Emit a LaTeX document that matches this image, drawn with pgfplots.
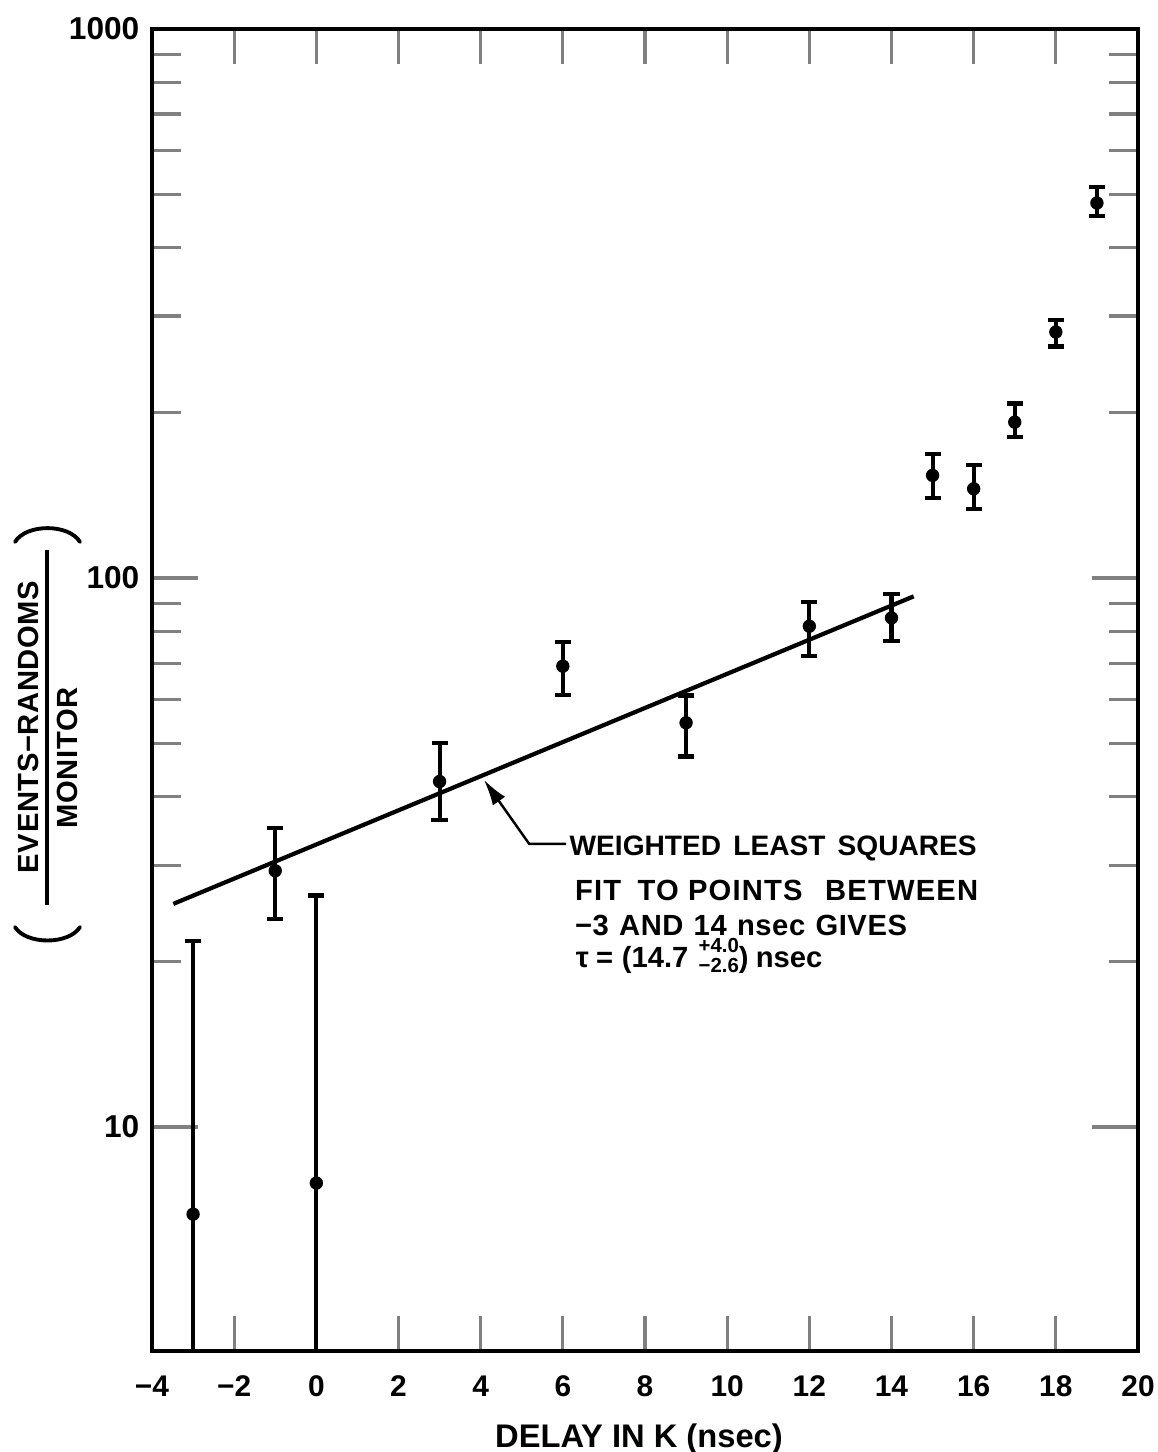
\documentclass[border=0pt]{standalone}
\usepackage{pgfplots}
\pgfplotsset{compat=1.18}
\usepackage{fontspec}
\setmainfont{Liberation Sans}
\usetikzlibrary{arrows.meta}
\begin{document}
\begin{tikzpicture}
\useasboundingbox (-15.2mm,-10.1mm) rectangle (100.5mm,135.1mm);
\begin{axis}[
  at={(0,0)}, anchor=south west,
  scale only axis, width=98.6mm, height=132.2mm,
  xmin=-4, xmax=20, ymode=log, ymin=3.91, ymax=1000,
  axis line style={line width=1.1pt},
  xtick={-4,-2,...,20},
  xticklabels={−4,−2,0,2,4,6,8,10,12,14,16,18,20},
  ytick={10,100,1000}, yticklabels={10,100,1000},
  minor ytick={20,30,40,50,60,70,80,90,200,300,400,500,600,700,800,900},
  tick align=inside,
  xtick pos=both, ytick pos=both,
  xtick style={line width=0.9pt, /pgfplots/major tick length=3.5mm},
  ytick style={line width=0.9pt, /pgfplots/major tick length=4.6mm},
  minor tick length=2.9mm,
  xticklabel style={font=\bfseries\fontsize{8.5}{10}\selectfont, inner sep=0pt, anchor=north, yshift=-2.4mm},
  yticklabel style={font=\bfseries\fontsize{9}{10}\selectfont, inner sep=0pt, anchor=east, xshift=-1.2mm},
  clip=true,
]
\addplot[black, no marks, line width=1.2pt] coordinates {(-3.48,25.5) (14.54,92.6)};
\addplot[black, only marks, mark=*, mark size=1.7pt,
  error bars/.cd, y dir=both, y explicit,
  error bar style={line width=1.15pt},
  error mark options={rotate=90, mark size=2.3pt, line width=1.2pt}]
coordinates {
(-3,6.94) += (0,14.86) -= (0,5.94)
(-1,29.3) += (0,5.7) -= (0,5.4)
(0,7.91) += (0,18.49) -= (0,6.91)
(3,42.6) += (0,7.5) -= (0,6.3)
(6,69.1) += (0,7.3) -= (0,7.8)
(9,54.5) += (0,6.6) -= (0,7.2)
(12,81.7) += (0,8.7) -= (0,9.7)
(14,84.6) += (0,9.0) -= (0,7.9)
(15,153.8) += (0,14.6) -= (0,13.9)
(16,145.4) += (0,15.5) -= (0,11.7)
(17,192.3) += (0,15.7) -= (0,11.9)
(18,280.6) += (0,14.4) -= (0,16.6)
(19,482) += (0,33) -= (0,26)
};
\draw[line width=0.7pt, -{Latex[length=2.6mm,width=1.5mm]}] (axis cs:6.08,32.8) -- (axis cs:5.18,32.8) -- (axis cs:4.08,42.9);
\node[anchor=base west, inner sep=0pt, font=\bfseries\fontsize{8.0}{10}\selectfont] at (axis cs:6.15,31.2) {\makebox[40.7mm][s]{WEIGHTED LEAST SQUARES}};
\node[anchor=base west, inner sep=0pt, font=\bfseries\fontsize{8.3}{10}\selectfont\addfontfeatures{LetterSpace=4}] at (axis cs:6.28,25.9) {\makebox[40.3mm][s]{FIT\hspace{1.6mm plus 1fil}TO\hspace{0.9mm plus 0.4fil}POINTS\hspace{2.2mm plus 1.3fil}BETWEEN}};
\node[anchor=base west, inner sep=0pt, font=\bfseries\fontsize{8.3}{10}\selectfont\addfontfeatures{LetterSpace=2}] at (axis cs:6.28,22.3) {\makebox[33.2mm][s]{−3 AND 14 nsec GIVES}};
\node[anchor=base west, inner sep=0pt, font=\bfseries\fontsize{8.3}{10}\selectfont] at (axis cs:6.30,19.5) {τ\hspace{0.25em}=\hspace{0.3em}(14.7\hspace{0.35em}{\fontsize{5.8}{6}\selectfont\makebox[0pt][l]{\raisebox{1.5mm}{+4.0}}\raisebox{-0.45mm}{−2.6}})\hspace{0.25em}nsec};
\end{axis}
% y-axis label: (EVENTS-RANDOMS / MONITOR)
\node[rotate=90, anchor=base, inner sep=0pt, font=\bfseries\fontsize{8.3}{10}\selectfont\addfontfeatures{LetterSpace=2}] at (-11.4mm,62.4mm) {EVENTS−RANDOMS};
\node[rotate=90, anchor=base, inner sep=0pt, font=\bfseries\fontsize{8.3}{10}\selectfont\addfontfeatures{LetterSpace=2}] at (-7.4mm,59.3mm) {MONITOR};
\draw[line width=0.9pt] (-10.5mm,80.1mm) -- (-10.5mm,44.6mm);
\draw[line width=1.1pt, line cap=round] (-13.7mm,80.9mm) .. controls (-12.6mm,82.75mm) and (-8.3mm,82.75mm) .. (-7.2mm,80.9mm);
\draw[line width=1.1pt, line cap=round] (-13.7mm,42.4mm) .. controls (-12.6mm,40.6mm) and (-8.3mm,40.6mm) .. (-7.2mm,42.4mm);
% x-axis label
\node[anchor=base, inner sep=0pt, font=\bfseries\fontsize{9.3}{11}\selectfont] at (48.7mm,-9.7mm) {DELAY IN K (nsec)};
\end{tikzpicture}
\end{document}
